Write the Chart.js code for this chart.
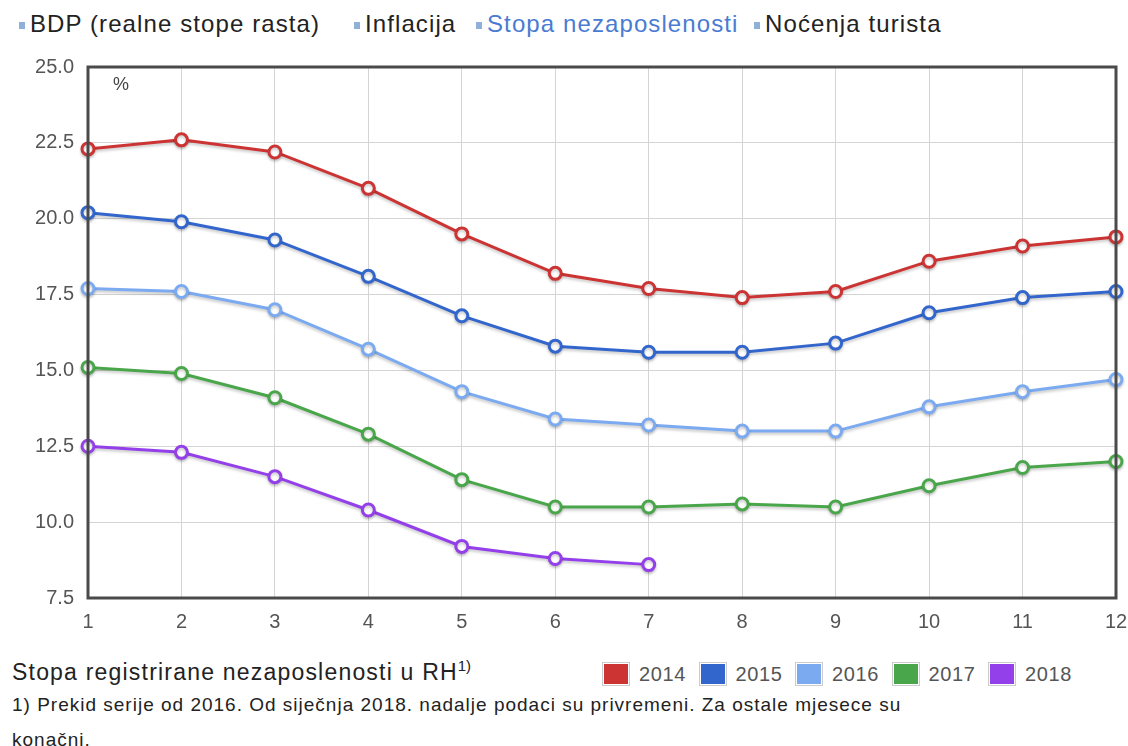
<!DOCTYPE html>
<html>
<head>
<meta charset="utf-8">
<script src="https://cdn.jsdelivr.net/npm/chart.js@4"></script>
<style>
  body { margin: 0; background: #fff; font-family: "Liberation Sans", Arial, sans-serif; }
  #wrap { position: relative; width: 1128px; height: 746px; overflow: hidden; }
  .tab { position: absolute; top: 10px; font-size: 24px; letter-spacing: 1.1px; color: #222; white-space: nowrap; }
  .tab i { position: absolute; left: -11px; top: 12px; width: 6px; height: 7px; background: #8fb0d8; }
  .tab.on { color: #4a7bd2; }
  #chartBox { position: absolute; left: 0; top: 50px; width: 1128px; height: 590px; }
  #title { position: absolute; left: 12px; top: 657px; font-size: 23px; letter-spacing: 1.2px; color: #222; }
  #title sup { font-size: 15px; vertical-align: 9px; letter-spacing: 0; }
  #legend { position: absolute; left: 0; top: 662px; font-size: 20px; letter-spacing: 0.6px; color: #555; white-space: nowrap; }
  #legend .item { position: absolute; top: 0; }
  #legend .box { display: inline-block; width: 24px; height: 20px; border: 1px solid #ccc; padding: 1px; vertical-align: -5px; margin-right: 9px; }
  #legend .box b { display: block; width: 100%; height: 100%; }
  #note { position: absolute; left: 12px; top: 687px; font-size: 19px; letter-spacing: 1px; color: #222; line-height: 35px; }
</style>
</head>
<body>
<div id="wrap">
  <div class="tab" style="left:30px"><i></i>BDP (realne stope rasta)</div>
  <div class="tab" style="left:365px"><i></i>Inflacija</div>
  <div class="tab on" style="left:487px"><i></i>Stopa nezaposlenosti</div>
  <div class="tab" style="left:765px"><i></i>Noćenja turista</div>
  <div id="chartBox"><canvas id="unempChart"></canvas></div>
  <div id="title">Stopa registrirane nezaposlenosti u RH<sup>1)</sup></div>
  <div id="legend"></div>
  <div id="note">1) Prekid serije od 2016. Od siječnja 2018. nadalje podaci su privremeni. Za ostale mjesece su<br>konačni.</div>
</div>
<script>
// months
const months = ['1', '2', '3', '4', '5', '6', '7', '8', '9', '10', '11', '12'];

// unemployment rate, %
const rate2014 = [22.3, 22.6, 22.2, 21.0, 19.5, 18.2, 17.7, 17.4, 17.6, 18.6, 19.1, 19.4];
const rate2015 = [20.2, 19.9, 19.3, 18.1, 16.8, 15.8, 15.6, 15.6, 15.9, 16.9, 17.4, 17.6];
const rate2016 = [17.7, 17.6, 17.0, 15.7, 14.3, 13.4, 13.2, 13.0, 13.0, 13.8, 14.3, 14.7];
const rate2017 = [15.1, 14.9, 14.1, 12.9, 11.4, 10.5, 10.5, 10.6, 10.5, 11.2, 11.8, 12.0];
const rate2018 = [12.5, 12.3, 11.5, 10.4, 9.2, 8.8, 8.6];

const years = ['2014', '2015', '2016', '2017', '2018'];
const colors = ['#cc3333', '#3366cc', '#7baaf0', '#4aa64a', '#9440ea'];
const allRates = [rate2014, rate2015, rate2016, rate2017, rate2018];

const datasets = years.map((y, i) => ({
    label: y,
    data: allRates[i],
    borderColor: colors[i],
    backgroundColor: '#ffffff',
    pointBackgroundColor: '#ffffff',
    pointBorderColor: colors[i],
    pointBorderWidth: 3,
    pointRadius: 6,
    borderWidth: 3,
    tension: 0,
    fill: false
}));

// ========== HTML LEGEND ==========
const legendEl = document.getElementById('legend');
datasets.forEach((ds, i) => {
    const item = document.createElement('span');
    item.className = 'item';
    item.style.left = (602 + i * 96.5) + 'px';
    item.innerHTML = '<span class="box"><b style="background:' + ds.borderColor + '"></b></span>' + ds.label;
    legendEl.appendChild(item);
});

// ========== PLUGINS ==========
const lineShadow = {
    id: 'lineShadow',
    beforeDatasetDraw(chart) {
        const c = chart.ctx;
        c.save();
        c.shadowColor = 'rgba(0,0,0,0.22)';
        c.shadowBlur = 3;
        c.shadowOffsetY = 2;
    },
    afterDatasetDraw(chart) {
        chart.ctx.restore();
    }
};

const frame = {
    id: 'frame',
    afterDraw(chart) {
        const { ctx, chartArea: a } = chart;
        ctx.save();
        ctx.strokeStyle = '#4a4a4a';
        ctx.lineWidth = 3;
        ctx.strokeRect(a.left, a.top, a.right - a.left, a.bottom - a.top);
        ctx.fillStyle = '#444';
        ctx.font = '18px "Liberation Sans", Arial, sans-serif';
        ctx.textBaseline = 'middle';
        ctx.fillText('%', a.left + 25, a.top + 18);
        ctx.restore();
    }
};

const ctx = document.getElementById('unempChart').getContext('2d');
const myChart = new Chart(ctx, {
    type: 'line',
    data: { labels: months, datasets: datasets },
    options: {
        responsive: true,
        maintainAspectRatio: false,
        animation: false,
        layout: { padding: { top: 17, right: 12, left: 0, bottom: 0 } },
        plugins: {
            legend: { display: false },
            tooltip: { enabled: false }
        },
        scales: {
            x: {
                offset: false,
                grid: { color: '#d4d4d4', drawTicks: false },
                border: { display: false },
                ticks: {
                    color: '#555',
                    padding: 12,
                    font: { size: 20, family: '"Liberation Sans", Arial, sans-serif' },
                    maxRotation: 0
                },
                afterFit(scale) {
                    scale.height = 42;
                    scale.paddingLeft = 0;
                    scale.paddingRight = 0;
                }
            },
            y: {
                min: 7.5,
                max: 25,
                grid: { color: '#d4d4d4', drawTicks: false },
                border: { display: false },
                ticks: {
                    stepSize: 2.5,
                    color: '#555',
                    padding: 14,
                    font: { size: 20, family: '"Liberation Sans", Arial, sans-serif' },
                    callback: v => v.toFixed(1)
                },
                afterFit(scale) {
                    scale.width = 88;
                    scale.paddingTop = 0;
                    scale.paddingBottom = 0;
                }
            }
        }
    },
    plugins: [lineShadow, frame]
});
</script>
</body>
</html>
